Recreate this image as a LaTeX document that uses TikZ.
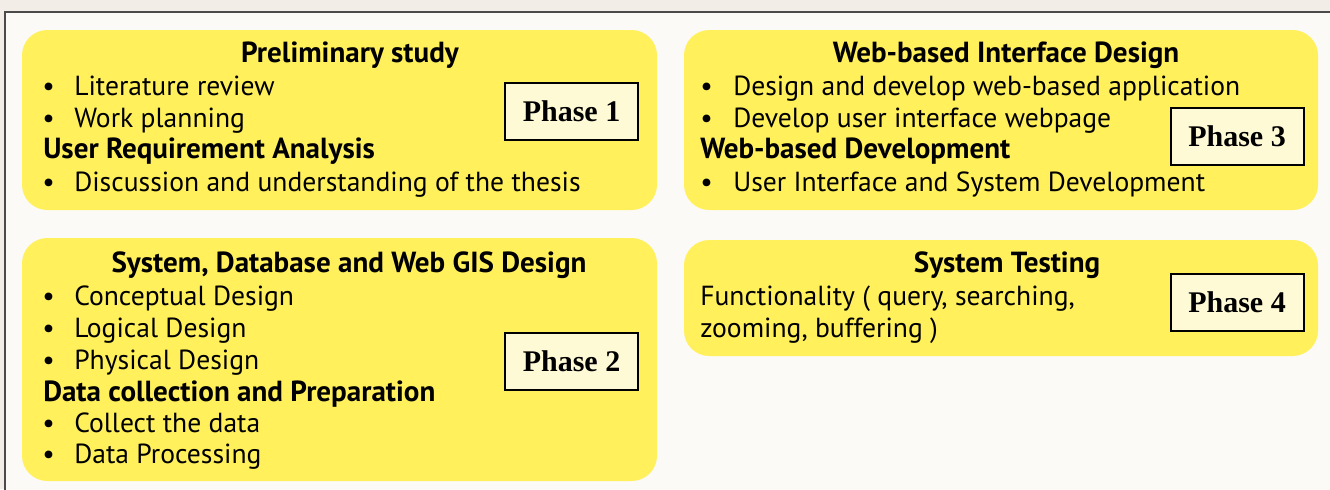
\documentclass[tikz,border=0pt]{standalone}
\usepackage{fontspec}
\setmainfont{PT Sans}
\newfontfamily\phasefont{Liberation Serif}
\usetikzlibrary{positioning}
\definecolor{stageyellow}{HTML}{FFF05C}
\definecolor{phasefill}{HTML}{FFFAD6}
\definecolor{framegray}{HTML}{4A4A4A}
\definecolor{paper}{HTML}{FCFAF6}
\definecolor{backdrop}{HTML}{F2EEE7}

\begin{document}
\begin{tikzpicture}[x=0.75pt,y=-0.75pt,
  stage/.style={fill=stageyellow,rounded corners=19pt},
  phase/.style={draw=black,line width=1.5pt,fill=phasefill,inner sep=0pt,
    minimum width=99.75pt,minimum height=42.75pt,
    font=\phasefont\bfseries\fontsize{22.5}{26}\selectfont},
  title/.style={anchor=base,inner sep=0pt,font=\bfseries\fontsize{21.8}{26}\selectfont},
  head/.style={anchor=base west,inner sep=0pt,font=\bfseries\fontsize{21.8}{26}\selectfont},
  item/.style={anchor=base west,inner sep=0pt,font=\fontsize{20.7}{25}\selectfont},
  dot/.style={anchor=base west,inner sep=0pt,font=\fontsize{20.7}{25}\selectfont}]
\clip (0,0) rectangle (1330,489);
\fill[backdrop](0,0)rectangle(1330,489);
\draw[framegray,line width=1.5pt,fill=paper](5,12)rectangle(1345,505);

\fill[stage](22,30)rectangle(657,210);
\fill[stage](22,238)rectangle(657,481);
\fill[stage](684,30)rectangle(1318,210);
\fill[stage](684,240)rectangle(1318,356);

% phase 1
\node[title] (p1title) at (350,62) {Preliminary study};
\node[dot] (p1d1) at (42,95) {•};
\node[item] (p1a) at (74,95) {Literature review};
\node[dot] (p1d2) at (42,127) {•};
\node[item] (p1b) at (74,127) {Work planning};
\node[head] (p1head) at (43,158) {User Requirement Analysis};
\node[dot] (p1d3) at (42,191) {•};
\node[item] (p1c) at (74,191) {Discussion and understanding of the thesis};
\node[phase] (phase1) at (571.5,111.5) {Phase 1};

% phase 2
\node[title] (p2title) at (349,272) {System, Database and Web GIS Design};
\node[dot] (p2d1) at (42,305) {•};
\node[item] (p2a) at (74,305) {Conceptual Design};
\node[dot] (p2d2) at (42,337) {•};
\node[item] (p2b) at (74,337) {Logical Design};
\node[dot] (p2d3) at (42,369) {•};
\node[item] (p2c) at (74,369) {Physical Design};
\node[head] (p2head) at (43,401) {Data collection and Preparation};
\node[dot] (p2d4) at (42,432) {•};
\node[item] (p2d) at (74,432) {Collect the data};
\node[dot] (p2d5) at (42,463) {•};
\node[item] (p2e) at (74,463) {Data Processing};
\node[phase] (phase2) at (571.5,361) {Phase 2};

% phase 3
\node[title] (p3title) at (1006,62) {Web-based Interface Design};
\node[dot] (p3d1) at (700,95) {•};
\node[item] (p3a) at (733,95) {Design and develop web-based application};
\node[dot] (p3d2) at (700,127) {•};
\node[item] (p3b) at (733,127) {Develop user interface webpage};
\node[head] (p3head) at (700,158) {Web-based Development};
\node[dot] (p3d3) at (700,191) {•};
\node[item] (p3c) at (733,191) {User Interface and System Development};
\node[phase] (phase3) at (1237,136) {Phase 3};

% phase 4
\node[title] (p4title) at (1007,272) {System Testing};
\node[item] (p4a) at (700,305) {Functionality ( query, searching,};
\node[item] (p4b) at (700,337) {zooming, buffering )};
\node[phase] (phase4) at (1237,302) {Phase 4};
\end{tikzpicture}
\end{document}
